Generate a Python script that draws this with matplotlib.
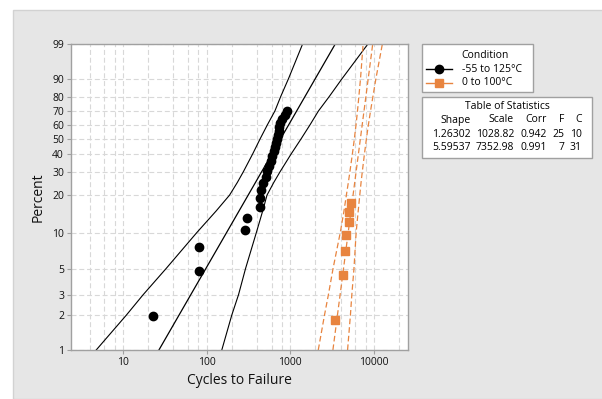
import numpy as np
import matplotlib
matplotlib.use("Agg")
import matplotlib.pyplot as plt
from matplotlib.lines import Line2D
from matplotlib.patches import Rectangle

plt.rcParams["font.family"] = ["Open Sans", "DejaVu Sans"]

# -55 to 125°C: failure cycles and their plotted percent
hot_cycles = [23, 82, 82, 284, 303, 429, 435, 447, 476, 513, 532, 562, 584,
              610, 634, 662, 680, 693, 713, 727, 739, 754, 796, 865, 921]
hot_pct = [1.98, 4.80, 7.63, 10.45, 13.28, 16.10, 18.93, 21.75, 24.58, 27.40,
           30.23, 33.05, 35.88, 38.70, 41.53, 44.35, 47.18, 50.00, 52.82,
           55.65, 58.47, 61.30, 64.12, 66.95, 69.77]

# 0 to 100°C
cold_cycles = [3445, 4290, 4530, 4656, 5000, 5080, 5343]
cold_pct = [1.82, 4.43, 7.03, 9.64, 12.24, 14.84, 17.45]

# confidence bounds (cycles) at these percent levels
ci_pct = [1, 2, 3, 5, 10, 15, 20, 25, 30, 40, 50, 60, 70, 80, 90, 99]
hot_lower = [4.80, 11.0, 17.5, 32.8, 76.3, 130, 188, 233, 275, 356, 438, 534, 655, 769, 953, 1404]
hot_upper = [152, 200, 241, 292, 393, 468, 527, 635, 755, 1027, 1353, 1727, 2170, 2924, 4159, 8463]
cold_lower = [2160, 2563, 2855, 3243, 3954, 4380, 4679, 4940, 5157, 5524, 5834, 6106, 6353, 6598, 6906, 7418]
cold_upper = [4836, 5231, 5439, 5767, 6121, 6480, 6763, 7010, 7252, 7697, 8128, 8584, 9096, 9714, 10549, 12597]

# table of statistics
conditions = ["-55 to 125°C", "0 to 100°C"]
shapes = [1.26302, 5.59537]
scales = [1028.82, 7352.98]
corrs = [0.942, 0.991]
n_fail = [25, 7]
n_cens = [10, 31]

pct_ticks = [1, 2, 3, 5, 10, 20, 30, 40, 50, 60, 70, 80, 90, 99]
x_major = [10, 100, 1000, 10000]
x_minor = [4, 6, 8, 20, 40, 60, 80, 200, 400, 600, 800, 2000, 4000, 6000, 8000, 20000]

ORANGE = "#E8843F"
DASH = (0, (4.5, 2.4))
W, H = 602, 399


def px(x, y):
    return x / W, 1 - y / H


def weib_fwd(p):
    p = np.clip(np.asarray(p, dtype=float), 1e-6, 100 - 1e-6)
    return np.log(-np.log(1 - p / 100))


def weib_inv(w):
    return 100 * (1 - np.exp(-np.exp(w)))


fig = plt.figure(figsize=(W / 100, H / 100), dpi=100, facecolor="white")
fig.add_artist(Rectangle(px(13, 399), 1, (399 - 10) / H, transform=fig.transFigure,
                         facecolor="#e6e6e6", edgecolor="#d2d2d2", lw=1, zorder=-10))

x0, y0 = px(71, 350)
ax = fig.add_axes([x0, y0, (408 - 71) / W, (350 - 44) / H])
ax.set_xscale("log")
ax.set_yscale("function", functions=(weib_fwd, weib_inv))
ax.set_xlim(2.4, 25500)
ax.set_ylim(1, 99)

ax.set_xticks(x_major)
ax.set_xticklabels([str(v) for v in x_major])
ax.set_xticks(x_minor, minor=True)
ax.xaxis.set_minor_formatter(plt.NullFormatter())
ax.set_yticks(pct_ticks)
ax.set_yticklabels([str(v) for v in pct_ticks])
ax.yaxis.set_minor_locator(plt.NullLocator())

ax.set_axisbelow(True)
grid_kw = dict(color="#d8d8d8", lw=0.8, dashes=(4.5, 2.5))
ax.grid(True, which="both", axis="x", **grid_kw)
ax.grid(True, which="major", axis="y", **grid_kw)

for s in ax.spines.values():
    s.set_color("#a0a0a0")
    s.set_linewidth(1)
ax.tick_params(which="major", length=3, width=0.8, color="#a0a0a0",
               labelsize=7.5, pad=2, labelcolor="#111111")
ax.tick_params(which="minor", length=0)

# fitted lines straight from the shape/scale estimates
p_fit = np.linspace(1, 99, 300)
for shape, scale, col, ls in [(shapes[0], scales[0], "black", "-"),
                              (shapes[1], scales[1], ORANGE, DASH)]:
    t_fit = scale * (-np.log(1 - p_fit / 100)) ** (1 / shape)
    ax.plot(t_fit, p_fit, color=col, lw=0.9, ls=ls)

ax.plot(hot_lower, ci_pct, color="black", lw=0.8)
ax.plot(hot_upper, ci_pct, color="black", lw=0.8)
ax.plot(cold_lower, ci_pct, color=ORANGE, lw=0.9, ls=DASH)
ax.plot(cold_upper, ci_pct, color=ORANGE, lw=0.9, ls=DASH)

ax.plot(hot_cycles, hot_pct, "o", color="black", ms=6, zorder=5)
ax.plot(cold_cycles, cold_pct, "s", color=ORANGE, ms=5.2, zorder=5)

fig.text(*px(239, 381), "Cycles to Failure", ha="center", va="center",
         fontsize=10, color="#111111")
fig.text(*px(38, 197), "Percent", ha="center", va="center", rotation=90,
         fontsize=10, color="#111111")

# legend box
fig.add_artist(Rectangle(px(421.7, 91.7), 111 / W, 47.4 / H, transform=fig.transFigure,
                         facecolor="white", edgecolor="#a0a0a0", lw=1))
fig.text(*px(485, 55.7), "Condition", ha="center", va="center", fontsize=7.5)
for i, (label, col, mk) in enumerate(zip(conditions, ["black", ORANGE], ["o", "s"])):
    yy = 69.3 + i * 13.4
    xa, ya = px(425.7, yy)
    xb, _ = px(452.3, yy)
    fig.add_artist(Line2D([xa, xb], [ya, ya], transform=fig.transFigure, color=col, lw=1))
    fig.add_artist(Line2D([(xa + xb) / 2], [ya], transform=fig.transFigure, marker=mk,
                          color=col, ms=6 if mk == "o" else 5.2))
    fig.text(*px(461.7, yy), label, ha="left", va="center", fontsize=7.5)

# table of statistics box
fig.add_artist(Rectangle(px(421.7, 158.3), 170 / W, 61.6 / H, transform=fig.transFigure,
                         facecolor="white", edgecolor="#a0a0a0", lw=1))
fig.text(*px(507, 106.7), "Table of Statistics", ha="center", va="center", fontsize=7.5)
col_right = [470.5, 514, 546.7, 564.5, 582]
headers = ["Shape", "Scale", "Corr", "F", "C"]
for xr, h in zip(col_right, headers):
    fig.text(*px(xr, 120), h, ha="right", va="center", fontsize=7.5)
for i in range(2):
    row = [f"{shapes[i]:.5f}", f"{scales[i]:.2f}", f"{corrs[i]:.3f}",
           str(n_fail[i]), str(n_cens[i])]
    for xr, val in zip(col_right, row):
        fig.text(*px(xr, 134.3 + i * 13.4), val, ha="right", va="center", fontsize=7.5)

fig.savefig("out.png", dpi=100, facecolor=fig.get_facecolor())
